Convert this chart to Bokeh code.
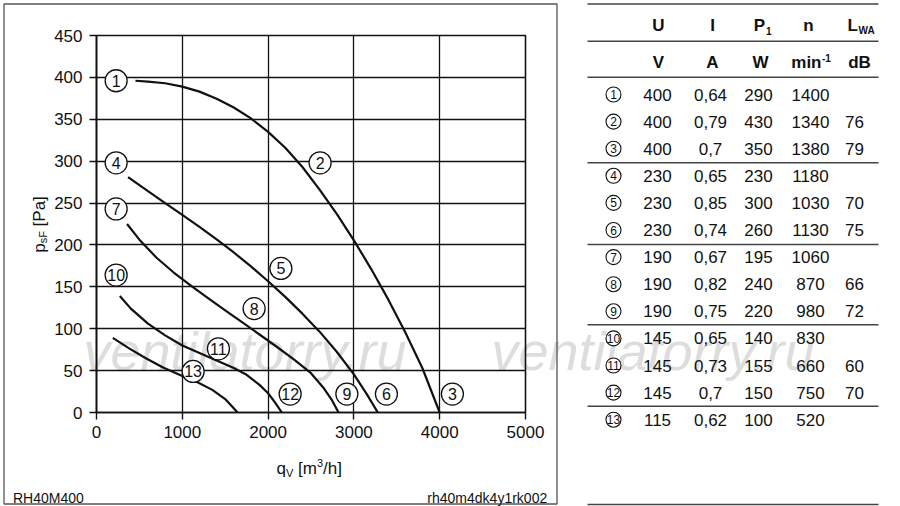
import math
from bokeh.plotting import figure
from bokeh.models import Range1d, FixedTicker, ColumnDataSource
from bokeh.embed import file_html
from bokeh.resources import INLINE
from bokeh.core.properties import value

FONT = "Liberation Sans"

# ---------------- data ----------------
x_ticks = [0, 1000, 2000, 3000, 4000, 5000]
y_ticks = [0, 50, 100, 150, 200, 250, 300, 350, 400, 450]

curve_1_2_3_x = [454, 600, 800, 1000, 1200, 1400, 1600, 1800, 2000, 2200, 2400, 2600, 2800, 3000, 3200, 3400, 3600, 3800, 4000]
curve_1_2_3_y = [396, 395, 393, 389, 383, 374.5, 364, 351, 335, 316, 293, 266, 237, 205.5, 171.5, 135, 95.5, 52.5, 0]

curve_4_5_6_x = [368, 600, 800, 1000, 1200, 1400, 1600, 1800, 2000, 2200, 2400, 2600, 2800, 3000, 3150, 3279]
curve_4_5_6_y = [281, 264.3, 250, 236, 221.5, 206.7, 191, 174.5, 156.7, 138, 118, 96.5, 72.5, 45.5, 22, 0]

curve_7_8_9_x = [356, 500, 700, 900, 1100, 1300, 1500, 1700, 1900, 2100, 2300, 2500, 2650, 2740, 2821]
curve_7_8_9_y = [225, 206.3, 184.7, 167.1, 151.5, 136.5, 121.9, 107.5, 93.1, 78.5, 63.3, 46.9, 28.9, 15.4, 0]

curve_10_11_12_x = [272, 400, 600, 800, 1000, 1200, 1400, 1600, 1750, 1900, 2000, 2080, 2160]
curve_10_11_12_y = [139, 124, 106, 92, 80, 71, 62, 53, 45, 33, 23, 12, 0]

curve_13_x = [190, 380, 570, 770, 1000, 1160, 1350, 1500, 1645]
curve_13_y = [89, 76.5, 65, 54, 43.5, 37, 27, 16, 0]

point_ids = ["1", "2", "3", "4", "5", "6", "7", "8", "9", "10", "11", "12", "13"]
point_x = [229, 2606, 4148, 229, 2149, 3379, 229, 1837, 2918, 229, 1421, 2257, 1126]
point_y = [396, 298, 22, 298, 172, 22, 243, 124, 22, 164, 76, 22, 49]

tbl_U = ["400", "400", "400", "230", "230", "230", "190", "190", "190", "145", "145", "145", "115"]
tbl_I = ["0,64", "0,79", "0,7", "0,65", "0,85", "0,74", "0,67", "0,82", "0,75", "0,65", "0,73", "0,7", "0,62"]
tbl_P1 = ["290", "430", "350", "230", "300", "260", "195", "240", "220", "140", "155", "150", "100"]
tbl_n = ["1400", "1340", "1380", "1180", "1030", "1130", "1060", "870", "980", "830", "660", "750", "520"]
tbl_LWA = ["", "76", "79", "", "70", "75", "", "66", "72", "", "60", "70", ""]

x_title = ["q", "V", "[m", "3", "/h]"]
y_title = ["p", "sF", "[Pa]"]
footer_left = "RH40M400"
footer_right = "rh40m4dk4y1rk002"
watermark = "ventilatorry.ru"

# ---------------- page geometry (pixels) ----------------
PW, PH = 900, 506
INK = "#111111"
EM = {"q": .556, "V": .667, "[": .278, "m": .833, "3": .556, "/": .278, "h": .556, "]": .278,
      "p": .556, "s": .5, "F": .611, "P": .667, "a": .556, " ": .278}


def wpx(s, size):
    return sum(EM.get(c, .556) for c in s) * size


# ---- background sheet: frame box, titles, footers, watermark, table ----
bg = figure(width=PW, height=PH, x_range=Range1d(0, PW), y_range=Range1d(PH, 0),
            x_axis_location=None, y_axis_location=None, min_border=0,
            output_backend="svg", toolbar_location=None, title=None,
            outline_line_color=None, background_fill_color="white", border_fill_color="white",
            styles={"position": "absolute", "left": "0px", "top": "0px"})
bg.grid.visible = False


def btext(xs, ys, texts, size, bold=False, italic=False, align="center", baseline="middle",
          color=INK, angle=0.0):
    src = ColumnDataSource(dict(x=xs, y=ys, t=texts))
    style = "bold" if bold else ("italic" if italic else "normal")
    bg.text("x", "y", text="t", source=src, text_font=value(FONT), text_font_size=value(size),
            text_font_style=style, text_align=align, text_baseline=baseline,
            text_color=color, angle=angle)


# watermark
btext([83, 491], [350, 350], [watermark, watermark], "54px", italic=True, align="left",
      baseline="alphabetic", color="#dddddd")

# chart sheet border
bg.quad(left=[3.5], right=[556.5], top=[3.5], bottom=[503.5], fill_color=None,
        line_color="#555555", line_width=1.3)

# x axis title  q_V [m^3/h]
cur = 276.0
for txt, size, dy, gap in ((x_title[0], 17, 0, 0), (x_title[1], 11, 4, 0), (x_title[2], 17, 0, wpx(" ", 17)),
                           (x_title[3], 11, -6, 0), (x_title[4], 17, 0, 0)):
    cur += gap
    btext([cur], [468 + dy], [txt], "%dpx" % size, align="left", baseline="alphabetic")
    cur += wpx(txt, size)

# y axis title  p_sF [Pa]  (rotated)
total = wpx("p", 17) + wpx("sF", 11) + wpx(" [Pa]", 17)
cur = 224 + total / 2
for txt, size, dx, gap in ((y_title[0], 17, 0, 0), (y_title[1], 11, 4, 0), (y_title[2], 17, 0, wpx(" ", 17))):
    cur -= gap
    btext([38.5 + dx], [cur], [txt], "%dpx" % size, align="left", baseline="alphabetic",
          angle=math.pi / 2)
    cur -= wpx(txt, size)

# footers
btext([12.5], [497], [footer_left], "14px", align="left", baseline="alphabetic")
btext([546.7], [497], [footer_right], "14px", align="right", baseline="alphabetic")

# table rules
rule_y = [3.5, 40.7, 76.7, 162.3, 244, 324.3, 405.7, 504]
bg.segment(x0=[587] * len(rule_y), x1=[878] * len(rule_y), y0=rule_y, y1=rule_y,
           line_color="#444444", line_width=1.5)

rows_y = [94 + 27.1 * i for i in range(13)]

# headers
h1, h2 = 25, 62
btext([658, 712, 808], [h1] * 3, ["U", "I", "n"], "17px", bold=True)
btext([764.5], [h1], ["P"], "17px", bold=True, align="right")
btext([765.5], [h1 + 5], ["1"], "10px", bold=True, align="left")
btext([857.5], [h1], ["L"], "17px", bold=True, align="right")
btext([858], [h1 + 5], ["WA"], "10px", bold=True, align="left")
btext([658, 712, 760, 859], [h2] * 4, ["V", "A", "W", "dB"], "17px", bold=True)
btext([821], [h2], ["min"], "17px", bold=True, align="right")
btext([821.5], [h2 - 5], ["-1"], "10px", bold=True, align="left")

# rows
bg.scatter([613] * 13, rows_y, marker="circle", size=15, fill_color="white",
           line_color=INK, line_width=1.1)
btext([613] * 13, rows_y, point_ids, "12px")
btext([657] * 13, rows_y, tbl_U, "17px")
btext([710] * 13, rows_y, tbl_I, "17px")
btext([758] * 13, rows_y, tbl_P1, "17px")
btext([810] * 13, rows_y, tbl_n, "17px")
btext([854] * 13, rows_y, tbl_LWA, "17px")

# ---- chart (transparent, on top of the sheet) ----
W1 = 560
ML, MR, MT, MB = 96, W1 - 525, 35, PH - 412
p = figure(width=W1, height=PH, x_range=Range1d(0, 5000), y_range=Range1d(0, 450),
           output_backend="svg", toolbar_location=None, title=None,
           min_border_left=ML, min_border_right=MR, min_border_top=MT, min_border_bottom=MB,
           background_fill_color=None, border_fill_color=None,
           styles={"position": "absolute", "left": "0px", "top": "0px"})
p.outline_line_color = INK
p.outline_line_width = 1.6

for ax, ticks in ((p.xaxis, x_ticks), (p.yaxis, y_ticks)):
    ax.ticker = FixedTicker(ticks=ticks)
    ax.axis_line_color = INK
    ax.axis_line_width = 1.6
    ax.major_tick_in = 0
    ax.major_tick_out = 7
    ax.major_tick_line_color = INK
    ax.major_tick_line_width = 1.4
    ax.minor_tick_line_color = None
    ax.major_label_text_font = FONT
    ax.major_label_text_font_size = "17px"
    ax.major_label_text_color = INK
    ax.major_label_standoff = 6
p.yaxis.major_label_standoff = 7
p.yaxis.major_label_orientation = "horizontal"

p.xgrid.ticker = FixedTicker(ticks=x_ticks)
p.ygrid.ticker = FixedTicker(ticks=y_ticks)
p.grid.grid_line_color = INK
p.grid.grid_line_width = 1.3
p.grid.grid_line_alpha = 1.0

for cx, cy in ((curve_1_2_3_x, curve_1_2_3_y), (curve_4_5_6_x, curve_4_5_6_y),
               (curve_7_8_9_x, curve_7_8_9_y), (curve_10_11_12_x, curve_10_11_12_y),
               (curve_13_x, curve_13_y)):
    p.line(cx, cy, line_color=INK, line_width=2.2, line_join="round")

pts = ColumnDataSource(dict(x=point_x, y=point_y, t=point_ids))
p.scatter("x", "y", source=pts, marker="circle", size=22, fill_color="white",
          line_color=INK, line_width=1.3)
p.text("x", "y", text="t", source=pts, text_font=value(FONT), text_font_size=value("16px"),
       text_align="center", text_baseline="middle", text_color=INK)

open("out.html", "w").write(file_html([bg, p], INLINE))
